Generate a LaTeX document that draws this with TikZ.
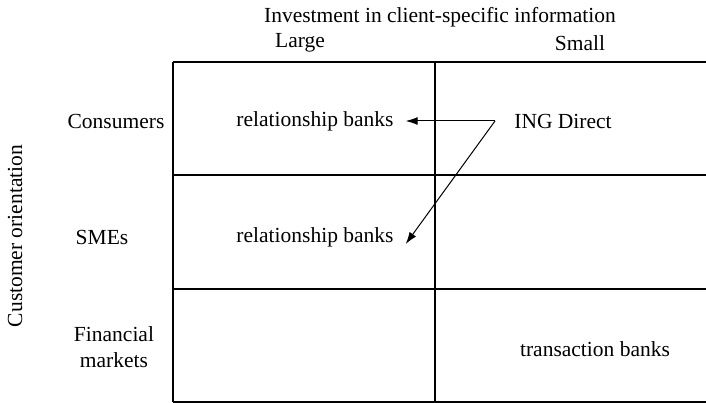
\documentclass[tikz,border=0pt]{standalone}
\usepackage{fontspec}
\setmainfont{Liberation Serif}
\usepackage{tikz}
\usetikzlibrary{arrows.meta}
\usetikzlibrary{positioning}

\begin{document}
\begin{tikzpicture}[x=1pt,y=-1pt,
  lbl/.style={font=\fontsize{21.5}{26}\selectfont,text=black,anchor=center,inner sep=2pt},
  gridline/.style={black,line width=1.2pt},
  pointer/.style={-{Latex[length=12pt,width=8pt]},black,line width=1pt}]
\useasboundingbox (0,0) rectangle (706,403);
% grid
\draw[gridline] (173,62) -- (173,402);
\draw[gridline] (435,62) -- (435,402);
\draw[gridline] (173,62) -- (706,62);
\draw[gridline] (173,175) -- (706,175);
\draw[gridline] (173,289) -- (706,289);
\draw[gridline] (173,402) -- (706,402);

% column heads
\node[lbl] (invest) at (440,17) {Investment in client-specific information};
\node[lbl] (large) at (300,43) {Large};
\node[lbl] (small) at (580,43) {Small};

% row heads
\node[lbl,rotate=90] (custor) at (15,236) {Customer orientation};
\node[lbl] (consumers) at (116,121) {Consumers};
\node[lbl] (smes) at (102,237) {SMEs};
\node[lbl,align=center] (finmkt) at (114,347) {Financial\\markets};

% cells
\node[lbl] (relcons) at (315,121) {relationship banks};
\node[lbl] (relsme) at (315,237) {relationship banks};
\node[lbl] (ing) at (563,121) {ING Direct};
\node[lbl] (trans) at (595,349) {transaction banks};

\coordinate (fork) at (495,121);
\draw[pointer] (fork) -- ([xshift=10pt]relcons.east);
\draw[pointer] (fork) -- ([xshift=10pt,yshift=-7pt]relsme.east);

\end{tikzpicture}
\end{document}
